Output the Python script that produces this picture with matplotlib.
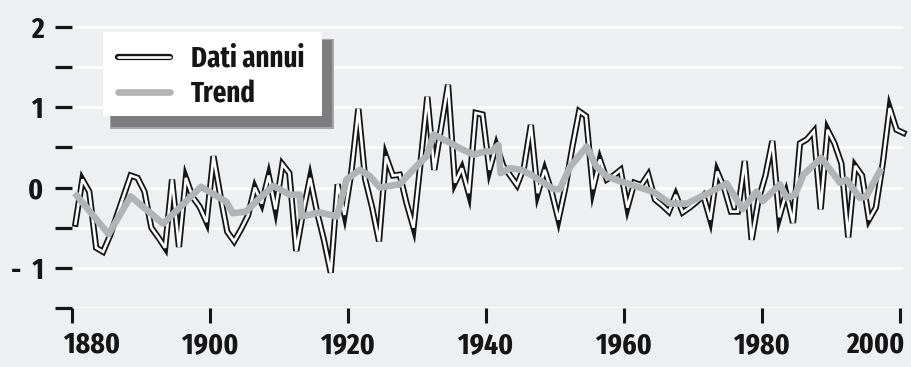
import matplotlib
matplotlib.use("Agg")
import matplotlib.pyplot as plt
import matplotlib.transforms as mtransforms
import matplotlib.patheffects as pe
from matplotlib import font_manager as fm
from matplotlib.textpath import TextPath
from matplotlib.lines import Line2D
from matplotlib.patches import Rectangle
import numpy as np

# annual anomalies, 1880-2000
years = list(range(1880, 2001))
annual = [
    -0.45, 0.10, -0.05, -0.75, -0.80, -0.60, -0.35, -0.10, 0.15, 0.12,
    -0.05, -0.50, -0.62, -0.75, 0.10, -0.74, 0.12, -0.12, -0.24, -0.43,
    0.39, -0.10, -0.55, -0.67, -0.52, -0.35, 0.00, -0.20, 0.15, -0.27,
    0.29, 0.18, -0.79, -0.30, 0.12, -0.30, -0.65, -1.06, 0.04, -0.34,
    0.20, 0.98, 0.10, -0.25, -0.67, 0.39, 0.15, 0.16, -0.20, -0.50,
    0.30, 1.13, 0.22, 0.75, 1.28, 0.06, 0.24, -0.07, 0.93, 0.91,
    0.22, 0.53, 0.27, 0.15, 0.03, 0.25, 0.78, -0.07, 0.22, -0.05,
    -0.40, 0.00, 0.50, 0.95, 0.89, -0.02, 0.35, 0.10, 0.15, 0.22,
    -0.25, 0.06, 0.03, 0.16, -0.15, -0.22, -0.30, -0.09, -0.31, -0.25,
    -0.18, -0.10, -0.40, 0.20, 0.00, -0.30, -0.30, 0.33, -0.65, -0.15,
    0.15, 0.58, -0.37, -0.07, -0.44, 0.55, 0.60, 0.70, -0.27, 0.72,
    0.55, 0.30, -0.62, 0.27, 0.15, -0.40, -0.25, 0.30, 0.99, 0.72,
    0.68,
]

# trend curve, read as knots
trend_x = [
    1880.4, 1885.3, 1888.5, 1893.2, 1898.7, 1902.4, 1903.3, 1905.2, 1907.2,
    1909.2, 1911.6, 1913.0, 1913.3, 1915.9, 1918.4, 1919.8, 1921.7, 1923.2,
    1924.6, 1927.5, 1929.4, 1931.4, 1932.4, 1934.3, 1936.2, 1938.2, 1939.9,
    1940.8, 1941.8, 1942.1, 1943.5, 1945.2, 1946.9, 1949.8, 1950.7, 1952.2,
    1954.6, 1956.0, 1957.5, 1959.4, 1962.3, 1964.2, 1966.7, 1969.1,
    1971.5, 1974.9, 1977.2, 1979.2, 1980.1, 1982.6, 1983.6, 1984.8, 1986.0,
    1988.6, 1991.3, 1992.2, 1994.2, 1995.1, 1997.3,
]
trend_y = [
    -0.07, -0.58, -0.11, -0.45, 0.01, -0.18, -0.32, -0.30, -0.13,
    0.02, -0.09, -0.09, -0.36, -0.31, -0.36, 0.10, 0.22, 0.14,
    0.00, 0.04, 0.22, 0.39, 0.66, 0.58, 0.49, 0.41, 0.45,
    0.45, 0.53, 0.18, 0.24, 0.22, 0.14, -0.02, -0.02, 0.26,
    0.51, 0.26, 0.14, 0.08, 0.00, -0.05, -0.20, -0.20,
    -0.10, 0.05, -0.27, -0.05, -0.17, 0.04, -0.13, -0.09, 0.16,
    0.37, 0.06, 0.10, -0.13, -0.11, 0.24,
]

x_ticks = [1880, 1900, 1920, 1940, 1960, 1980, 2000]
y_ticks = [-1.5, -1.0, -0.5, 0.0, 0.5, 1.0, 1.5, 2.0]
y_labels = ["", "-  1", "", "0", "", "1", "", "2"]

BG = "#eeeff1"
GREY = "#b2b3b5"
INK = "#151515"
DPI = 100


def text_size(prop, s):
    ext = TextPath((0, 0), s, size=1, prop=prop).get_extents()
    return ext.width * DPI / 72, ext.height * DPI / 72


def pick_font(target_ratio=2.62):
    # bold condensed sans face whose "1880" is closest to the reference proportions
    best = None
    for f in fm.fontManager.ttflist:
        name = f.name.lower()
        if "mono" in name or ("serif" in name and "sans" not in name):
            continue
        st = f.stretch
        narrow = ("narrow" in name or "condensed" in name
                  or (isinstance(st, str) and "condensed" in st)
                  or (isinstance(st, (int, float)) and st < 500))
        if not narrow:
            continue
        w = f.weight if isinstance(f.weight, (int, float)) else {"bold": 700}.get(str(f.weight), 400)
        if w < 700 or w > 800 or "italic" in f.style or "oblique" in f.style:
            continue
        try:
            wd, ht = text_size(fm.FontProperties(fname=f.fname), "1880")
        except Exception:
            continue
        score = abs(wd / ht - target_ratio)
        if best is None or score < best[0]:
            best = (score, f.fname)
    if best:
        return fm.FontProperties(fname=best[1])
    return fm.FontProperties(family=["Roboto", "DejaVu Sans"], weight="bold")


def fit_size(prop, s, width_px, height_px, lo, hi, slack=1.08):
    wd, ht = text_size(prop, s)
    size = min(height_px / ht, slack * width_px / wd)
    return max(lo, min(hi, size))


base_font = pick_font()

W, H = 912, 367
fig = plt.figure(figsize=(W / DPI, H / DPI), dpi=DPI, facecolor=BG)

# axes placed in pixels: 1880 at x=72, y=-1.5 at y=308 from top
px_year = 6.9
px_unit = 80.3
x0, x1 = 1880, 2000.5
y0, y1 = -1.5, 2.3
ax = fig.add_axes([72 / W, (H - 308) / H, (x1 - x0) * px_year / W, (y1 - y0) * px_unit / H])
ax.set_facecolor(BG)
ax.set_xlim(x0, x1)
ax.set_ylim(y0, y1)
for s in ax.spines.values():
    s.set_visible(False)

tick_font = base_font.copy()
tick_font.set_size(fit_size(base_font, "1880", 55, 21, 17, 23, slack=1.13))
ax.set_yticks(y_ticks)
ax.set_yticklabels(y_labels, fontproperties=tick_font, color=INK)
ax.set_xticks(x_ticks)
ax.set_xticklabels([str(v) for v in x_ticks], fontproperties=tick_font, color=INK)
ax.tick_params(axis="y", length=12.5, width=2.3, pad=8, color=INK)
ax.tick_params(axis="x", length=11, width=2.2, pad=5.5, color=INK)

# first and last year labels are pushed inside the axis ends
xl = ax.get_xticklabels()
xl[0].set_ha("left")
xl[0].set_transform(xl[0].get_transform() + mtransforms.ScaledTranslation(-0.08, 0, fig.dpi_scale_trans))
xl[-1].set_ha("right")
xl[-1].set_transform(xl[-1].get_transform() + mtransforms.ScaledTranslation(0.05, 0, fig.dpi_scale_trans))

ax.grid(axis="y", color="white", linewidth=2.2)
ax.set_axisbelow(True)

outline = [pe.Stroke(linewidth=4.5, foreground=INK), pe.Normal()]
xa = np.array(years) + 0.5
ax.plot(xa, annual, color="white", lw=1.9, solid_joinstyle="miter",
        path_effects=outline, clip_on=False, zorder=3)
ax.plot(trend_x, trend_y, color=GREY, lw=4.8, solid_capstyle="butt", zorder=5)


# legend box with shadow, sized in pixels
def px_rect(x, y, w, h, **kw):
    return Rectangle((x / W, 1 - (y + h) / H), w / W, h / H, transform=fig.transFigure, **kw)


fig.add_artist(px_rect(110, 39, 224, 90, facecolor="#a5a5a7", edgecolor="none", zorder=2))
fig.add_artist(px_rect(111, 40, 221, 87, facecolor="#7d7d7f", edgecolor="none", zorder=3))
fig.add_artist(px_rect(103, 32, 219, 84, facecolor="white", edgecolor="none", zorder=4))

h_data = Line2D([], [], color="white", lw=1.9, solid_capstyle="round",
                path_effects=[pe.Stroke(linewidth=4.5, foreground=INK, capstyle="round"), pe.Normal()])
h_trend = Line2D([], [], color=GREY, lw=4.8, solid_capstyle="round")
leg_font = base_font.copy()
leg_size = fit_size(base_font, "Dati annui", 117, 24, 16, 21)
leg_font.set_size(leg_size)
em = leg_size * DPI / 72
leg = fig.legend(
    [h_data, h_trend], ["Dati annui", "Trend"],
    loc="center left", bbox_to_anchor=(118 / W, 1 - 77 / H), bbox_transform=fig.transFigure,
    frameon=False, borderpad=0, borderaxespad=0,
    handlelength=52 / em, handletextpad=21 / em, labelspacing=max(0.05, (41 - 1.15 * em) / em),
    prop=leg_font, labelcolor=INK,
)
leg.set_zorder(6)

fig.savefig("out.png", dpi=DPI, facecolor=BG)
